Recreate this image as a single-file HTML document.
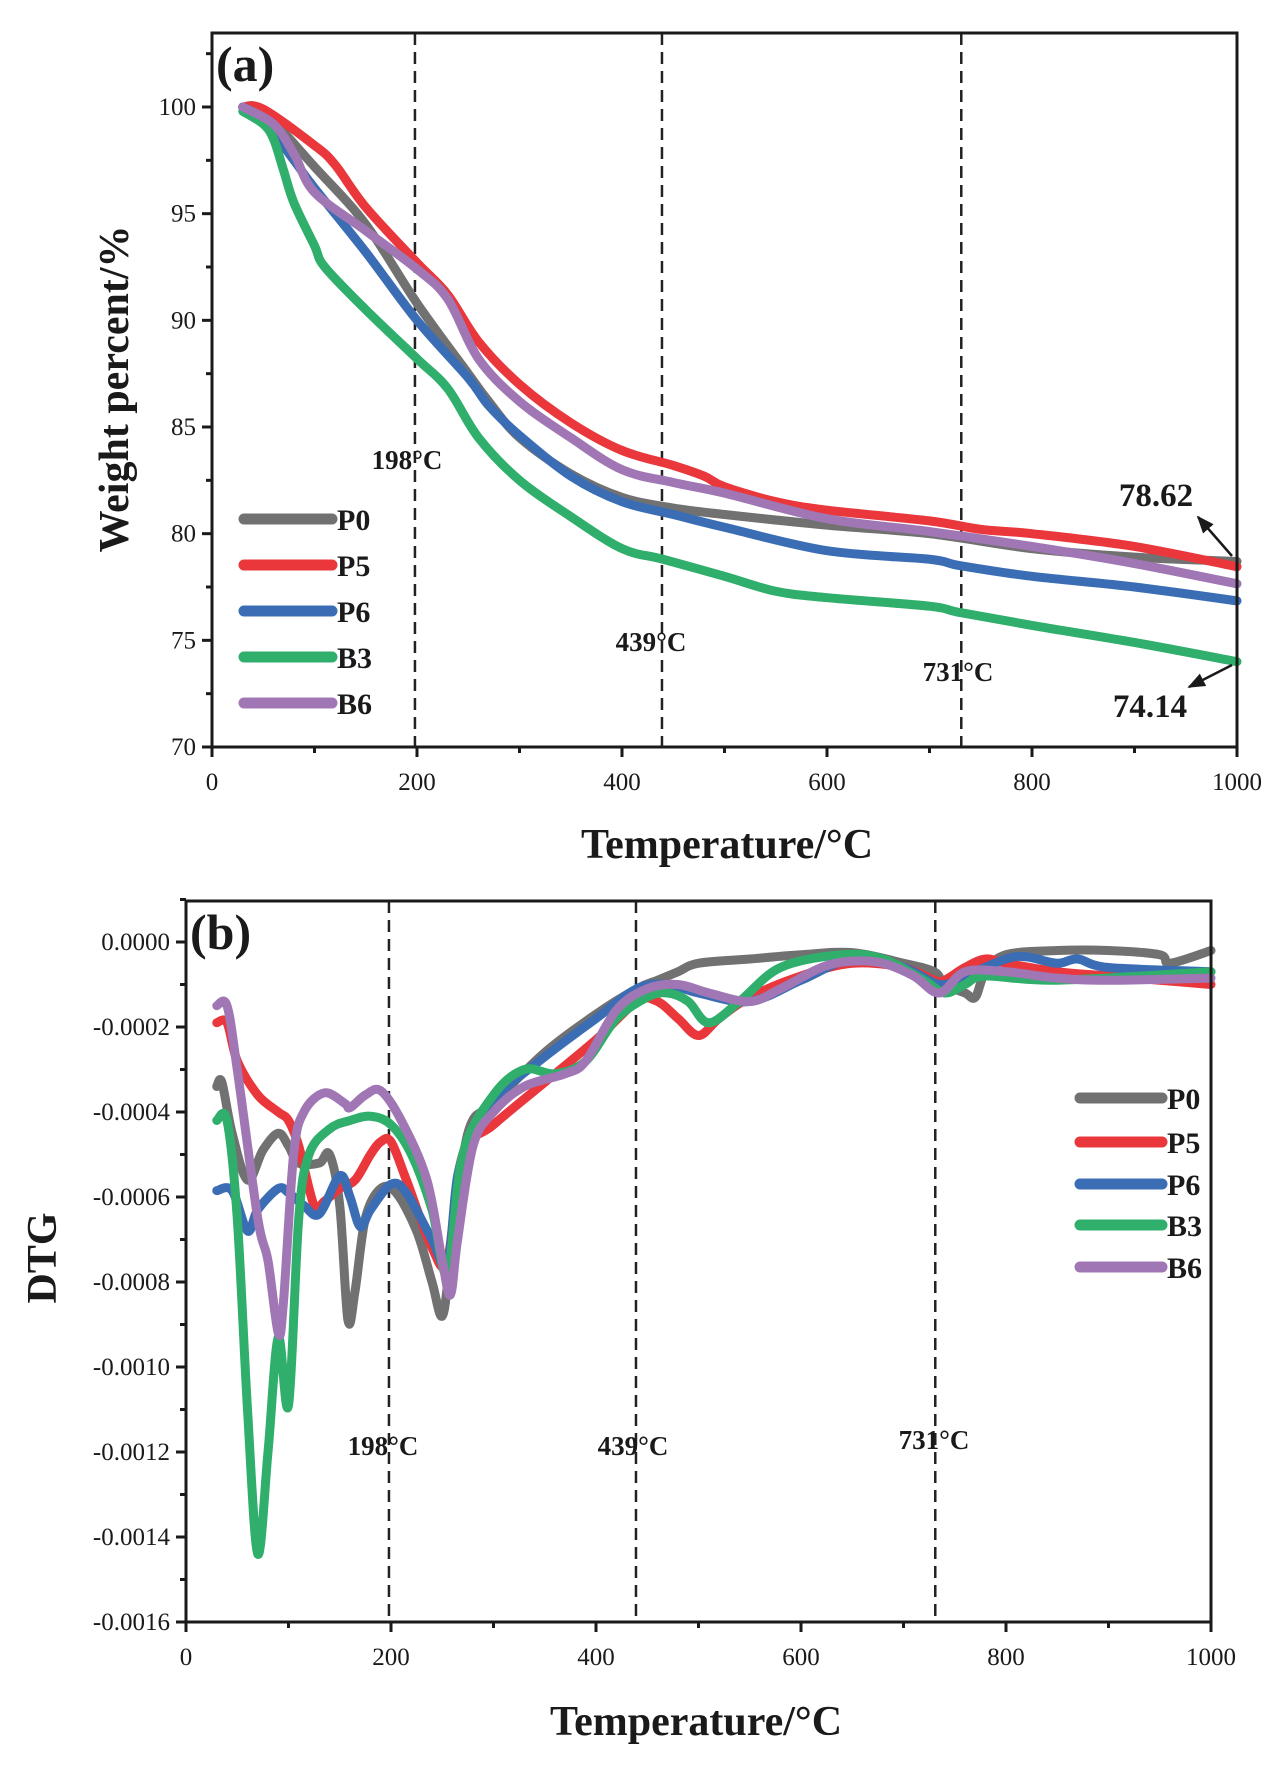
<!DOCTYPE html>
<html><head><meta charset="utf-8"><style>
html,body{margin:0;padding:0;background:#fff;}
svg{display:block;font-family:"Liberation Serif",serif;}
</style></head><body>
<svg id="chart" width="1286" height="1768" viewBox="0 0 1286 1768" xmlns="http://www.w3.org/2000/svg"></svg>
<script>
// ===== Data: panel (a) TG =====
const seriesNames = ["P0","P5","P6","B3","B6"];
const seriesColors = ["#717171","#e9373c","#3b6db5","#2faf6b","#a077b4"];
const tgP0 = [[30,100],[50,99.8],[100,97.2],[150,94.5],[200,90.8],[250,87.5],[270,86.2],[300,84.5],[350,82.8],[400,81.7],[450,81.2],[500,80.9],[600,80.4],[700,80.0],[800,79.3],[900,78.9],[1000,78.7]];
const tgP5 = [[30,100],[50,99.9],[100,98.2],[120,97.3],[150,95.3],[200,92.7],[230,91.2],[260,89.0],[300,87.0],[350,85.2],[400,83.9],[450,83.2],[480,82.7],[500,82.2],[550,81.5],[600,81.1],[700,80.6],[750,80.2],[800,80.0],[900,79.4],[1000,78.45]];
const tgP6 = [[30,100],[50,99.4],[80,97.5],[100,96.2],[150,93.2],[200,90.0],[250,87.3],[270,86.0],[300,84.6],[350,82.7],[400,81.5],[450,80.9],[500,80.3],[600,79.2],[700,78.8],[730,78.5],[800,78.0],[900,77.5],[1000,76.85]];
const tgB3 = [[30,99.8],[50,99.2],[60,98.5],[70,97],[80,95.5],[100,93.5],[110,92.5],[150,90.5],[200,88.2],[230,86.8],[260,84.5],[300,82.5],[350,80.8],[400,79.3],[440,78.8],[500,78.0],[550,77.3],[600,77.0],[700,76.6],[730,76.3],[800,75.7],[900,74.9],[1000,74.0]];
const tgB6 = [[30,100],[60,99.2],[80,97.8],[100,96.0],[150,94.2],[200,92.4],[230,91.0],[260,88.2],[300,86.2],[350,84.5],[400,83.0],[450,82.4],[500,81.9],[600,80.7],[700,80.1],[800,79.4],[900,78.6],[1000,77.65]];
const tgSeries = [tgP0,tgP5,tgP6,tgB3,tgB6];
const tgYTicks = [70,75,80,85,90,95,100];
const xTicks = [0,200,400,600,800,1000];
const markTemps = [198,439,731];

// ===== Data: panel (b) DTG (units of 1e-4) =====
const dtgP0 = [[30,-3.4],[35,-3.3],[45,-4.5],[60,-5.6],[75,-4.9],[90,-4.5],[100,-4.8],[110,-5.2],[130,-5.2],[140,-5.0],[150,-6.2],[158,-8.9],[165,-8.2],[175,-6.5],[190,-5.8],[205,-5.9],[225,-6.8],[240,-8.0],[250,-8.8],[258,-7.5],[275,-4.5],[300,-3.8],[350,-2.6],[400,-1.7],[440,-1.1],[460,-0.9],[480,-0.7],[500,-0.5],[550,-0.4],[600,-0.3],[650,-0.25],[700,-0.5],[730,-0.7],[740,-1.0],[760,-1.2],[770,-1.3],[780,-0.7],[800,-0.3],[850,-0.2],[900,-0.2],[950,-0.3],[960,-0.5],[1000,-0.2]];
const dtgP5 = [[30,-1.9],[40,-1.9],[50,-2.8],[70,-3.6],[90,-4.0],[100,-4.2],[110,-4.8],[125,-6.2],[135,-6.1],[150,-5.8],[165,-5.6],[180,-5.0],[190,-4.7],[200,-4.7],[215,-5.6],[240,-7.2],[255,-7.5],[270,-5.0],[300,-4.3],[350,-3.3],[400,-2.3],[440,-1.4],[460,-1.4],[480,-1.8],[500,-2.2],[520,-1.8],[550,-1.3],[600,-0.8],[650,-0.5],[700,-0.6],[730,-0.9],[740,-0.9],[760,-0.6],[780,-0.4],[800,-0.5],[850,-0.7],[900,-0.8],[950,-0.9],[1000,-1.0]];
const dtgP6 = [[30,-5.85],[45,-5.85],[60,-6.8],[70,-6.3],[90,-5.8],[100,-5.9],[115,-6.2],[130,-6.4],[150,-5.5],[160,-6.0],[170,-6.7],[180,-6.3],[200,-5.7],[215,-5.9],[240,-7.0],[255,-7.6],[265,-5.5],[280,-4.5],[300,-3.7],[350,-2.7],[400,-1.8],[440,-1.1],[470,-1.0],[500,-1.2],[550,-1.4],[600,-0.9],[650,-0.4],[700,-0.6],[735,-1.0],[760,-0.8],[800,-0.4],[820,-0.35],[850,-0.5],[870,-0.4],[900,-0.6],[1000,-0.7]];
const dtgB3 = [[30,-4.2],[40,-4.2],[50,-6.5],[60,-11],[70,-14.4],[80,-12],[90,-9.3],[100,-10.9],[110,-6.5],[120,-5.0],[140,-4.4],[160,-4.2],[180,-4.1],[200,-4.3],[220,-5.0],[240,-6.3],[255,-7.8],[270,-5.0],[300,-3.6],[330,-3.0],[360,-3.1],[390,-2.8],[420,-1.8],[450,-1.3],[470,-1.2],[490,-1.4],[510,-1.9],[540,-1.4],[580,-0.6],[640,-0.3],[680,-0.4],[720,-0.9],[740,-1.2],[760,-1.0],[780,-0.8],[850,-0.9],[1000,-0.7]];
const dtgB6 = [[30,-1.5],[40,-1.5],[50,-3],[70,-6.5],[80,-7.5],[90,-9.2],[95,-8.5],[105,-5],[115,-4.0],[135,-3.55],[155,-3.8],[160,-3.9],[175,-3.6],[190,-3.5],[210,-4.2],[235,-5.6],[250,-7.5],[258,-8.3],[265,-7.0],[280,-4.8],[300,-4.0],[330,-3.4],[370,-3.1],[390,-2.8],[420,-1.6],[450,-1.1],[480,-1.0],[510,-1.2],[550,-1.4],[580,-1.1],[620,-0.6],[650,-0.45],[680,-0.5],[710,-0.8],[735,-1.2],[760,-0.7],[800,-0.7],[850,-0.85],[900,-0.9],[1000,-0.85]];
const dtgSeries = [dtgP0,dtgP5,dtgP6,dtgB3,dtgB6];
const dtgYTicks = [0,-2,-4,-6,-8,-10,-12,-14,-16];
const dtgYLabels = ["0.0000","-0.0002","-0.0004","-0.0006","-0.0008","-0.0010","-0.0012","-0.0014","-0.0016"];

const NS="http://www.w3.org/2000/svg";
const svg=document.getElementById('chart');
function mk(tag,attrs,parent){const e=document.createElementNS(NS,tag);for(const k in attrs)e.setAttribute(k,attrs[k]);(parent||svg).appendChild(e);return e;}
function smooth(pts){let d=`M${pts[0][0]},${pts[0][1]}`;for(let i=0;i<pts.length-1;i++){const p0=pts[Math.max(0,i-1)],p1=pts[i],p2=pts[i+1],p3=pts[Math.min(pts.length-1,i+2)];const c1=[p1[0]+(p2[0]-p0[0])/6,p1[1]+(p2[1]-p0[1])/6],c2=[p2[0]-(p3[0]-p1[0])/6,p2[1]-(p3[1]-p1[1])/6];d+=` C${c1[0]},${c1[1]} ${c2[0]},${c2[1]} ${p2[0]},${p2[1]}`;}return d;}

function panel(cfg){
  const g=mk('g',{});
  
  
  const X=v=>cfg.L+(v-0)/1000*(cfg.R-cfg.L);
  const Y=cfg.Y;
  markTemps.forEach(t=>{const l=mk('line',{x1:X(t),x2:X(t),y1:cfg.T,y2:cfg.B,stroke:'#222','stroke-width':2.5,'stroke-dasharray':'12,7'},g);
    
    });
  cfg.series.forEach((s,i)=>{const p=mk('path',{d:smooth(s.map(q=>[X(q[0]),Y(q[1])])),fill:'none',stroke:seriesColors[i],'stroke-width':9,'stroke-linejoin':'round','stroke-linecap':'round'},g);
    
    });
  const fr=mk('rect',{x:cfg.L,y:cfg.T,width:cfg.R-cfg.L,height:cfg.B-cfg.T,fill:'none',stroke:'#1a1a1a','stroke-width':3},g);
  
  
  for(let v=0;v<=1000;v+=100){const major=v%200===0;mk('line',{x1:X(v),x2:X(v),y1:cfg.B,y2:cfg.B+(major?10:6),stroke:'#1a1a1a','stroke-width':3},g);}
  xTicks.forEach(v=>{const t=mk('text',{x:X(v),y:cfg.B+43,'text-anchor':'middle','font-size':25,fill:'#1a1a1a'},g);t.textContent=v;
    
    });
  cfg.yMinor.forEach(v=>mk('line',{x1:cfg.L,x2:cfg.L-6,y1:Y(v),y2:Y(v),stroke:'#1a1a1a','stroke-width':3},g));
  cfg.yTicks.forEach((v,i)=>{mk('line',{x1:cfg.L,x2:cfg.L-10,y1:Y(v),y2:Y(v),stroke:'#1a1a1a','stroke-width':3},g);
    const t=mk('text',{x:cfg.L-16,y:Y(v)+8,'text-anchor':'end','font-size':25,fill:'#1a1a1a'},g);t.textContent=cfg.yLabels[i];
    
    });
  const xt=mk('text',{x:cfg.xtX,y:cfg.xtY,'text-anchor':'middle','font-size':42,'font-weight':'bold',fill:'#1a1a1a'},g);xt.textContent='Temperature/°C';
  
  
  const yt=mk('text',{x:0,y:0,transform:`translate(${cfg.ytX},${cfg.ytY}) rotate(-90)`,'text-anchor':'middle','font-size':42,'font-weight':'bold',fill:'#1a1a1a'},g);yt.textContent=cfg.yTitle;
  
  
  const pl=mk('text',{x:cfg.L+4,y:cfg.T+48,'font-size':50,'font-weight':'bold',fill:'#1a1a1a'},g);pl.textContent=cfg.label;
  
  
  cfg.tempLabels.forEach((tl,i)=>{const t=mk('text',{x:tl[0],y:tl[1],'text-anchor':'middle','font-size':27,'font-weight':'bold',fill:'#1a1a1a'},g);t.textContent=markTemps[i]+'°C';
    
    });
  seriesNames.forEach((n,i)=>{const y=cfg.legY[i];
    const l=mk('line',{x1:cfg.legX,x2:cfg.legX+cfg.legW,y1:y,y2:y,stroke:seriesColors[i],'stroke-width':11,'stroke-linecap':'round'},g);
    
    
    const t=mk('text',{x:cfg.legX+cfg.legW+5,y:y+11,'font-size':30,'font-weight':'bold',fill:'#1a1a1a'},g);t.textContent=n;
    
    });
  return {g,X,Y};
}

const a=panel({name:'tg-panel',L:212,R:1237,T:33,B:747,Y:v=>747-(v-70)*(640/30),series:tgSeries,
  yTicks:tgYTicks,yLabels:tgYTicks.map(String),yMinor:[72.5,77.5,82.5,87.5,92.5,97.5,102.5],
  xtX:727,xtY:858,ytX:128,ytY:389,yTitle:'Weight percent/%',label:'(a)',
  tempLabels:[[407,469],[651,651],[958,681]],legX:244,legW:88,legY:[519,565,611,657,703]});
const ann=mk('g',{});


mk('defs',{},svg).innerHTML='<marker id="ah" viewBox="0 0 10 10" refX="9" refY="5" markerWidth="7" markerHeight="7" orient="auto"><path d="M0,1 L10,5 L0,9 Z" fill="#1a1a1a"/></marker>';
mk('line',{x1:1232,y1:556,x2:1198,y2:517,stroke:'#1a1a1a','stroke-width':2.5,'marker-end':'url(#ah)'},ann);
mk('line',{x1:1232,y1:665,x2:1189,y2:687,stroke:'#1a1a1a','stroke-width':2.5,'marker-end':'url(#ah)'},ann);
const t1=mk('text',{x:1156,y:506,'text-anchor':'middle','font-size':33,'font-weight':'bold',fill:'#1a1a1a'},ann);t1.textContent='78.62';


const t2=mk('text',{x:1150,y:717,'text-anchor':'middle','font-size':33,'font-weight':'bold',fill:'#1a1a1a'},ann);t2.textContent='74.14';



const dMinor=[];for(let v=1;v>=-15;v-=2)dMinor.push(v);
panel({name:'dtg-panel',L:186,R:1211,T:901,B:1622,Y:v=>942-v*(680/16),series:dtgSeries,
  yTicks:dtgYTicks,yLabels:dtgYLabels,yMinor:dMinor,
  xtX:696,xtY:1735,ytX:56,ytY:1258,yTitle:'DTG',label:'(b)',
  tempLabels:[[383,1455],[633,1455],[934,1449]],legX:1080,legW:82,legY:[1098,1142,1184,1225,1267]});
</script>
</body></html>
